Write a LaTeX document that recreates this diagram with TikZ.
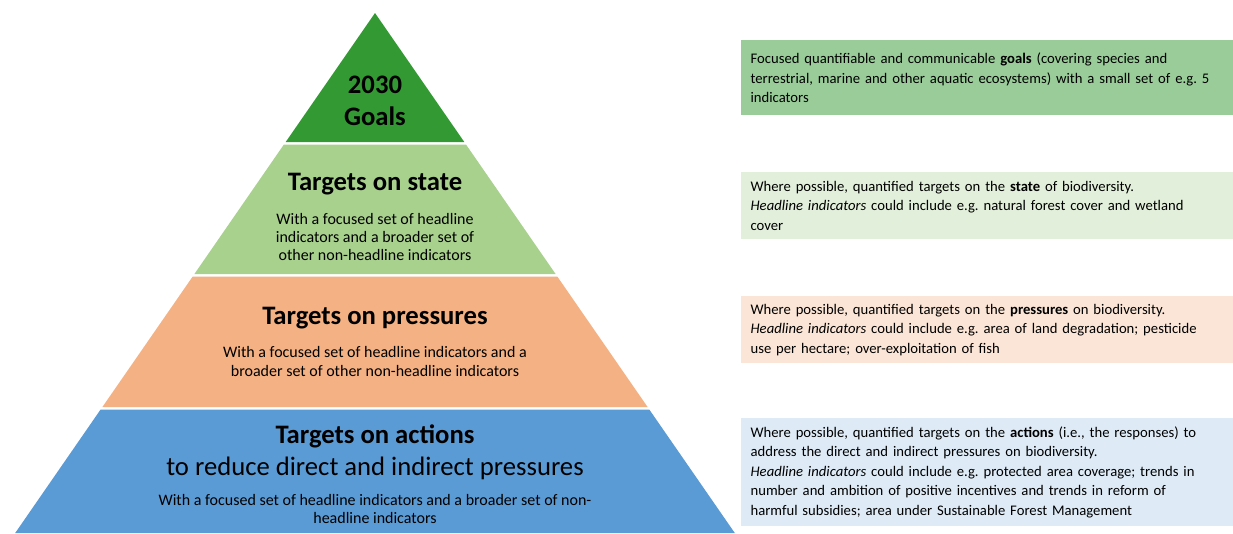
\documentclass[tikz,border=0pt]{standalone}
\usepackage{fontspec}
\setmainfont{Carlito}
\frenchspacing
\definecolor{gdark}{HTML}{339933}
\definecolor{glight}{HTML}{A9D18E}
\definecolor{orng}{HTML}{F4B183}
\definecolor{blu}{HTML}{5B9BD5}
\definecolor{bgoal}{HTML}{99CC99}
\definecolor{bstate}{HTML}{E2EFDA}
\definecolor{bpress}{HTML}{FBE5D6}
\definecolor{bact}{HTML}{DEEBF7}
\tikzset{
  ttl/.style={font=\fontsize{20}{24}\selectfont\bfseries, align=center, inner sep=0pt},
  sub/.style={font=\fontsize{12}{13.7}\selectfont, align=center, inner sep=0pt},
  rbox/.style={anchor=north west, minimum width=369pt, text width=355pt, inner xsep=6.75pt, inner ysep=0pt, align=left, font=\fontsize{11}{14.6}\selectfont}
}
\begin{document}
\begin{tikzpicture}[x=0.75pt,y=-0.75pt]
\useasboundingbox (0,0) rectangle (1233,533);
% pyramid bands
\fill[gdark] (375,13) -- (464.3,142) -- (285.7,142) -- cycle;
\fill[glight] (283.9,144.5) -- (466.0,144.5) -- (555.6,274) -- (194.4,274) -- cycle;
\fill[orng] (192.7,276.5) -- (557.3,276.5) -- (647.6,407) -- (102.4,407) -- cycle;
\fill[blu] (100.6,409.5) -- (649.3,409.5) -- (734.8,533) -- (15.2,533) -- cycle;
% pyramid texts
\node[ttl] (goals) at (375,101) {2030\\Goals};
\node[ttl] (state) at (375,184) {Targets on state};
\node[sub] (statesub) at (375,237) {With a focused set of headline\\indicators and a broader set of\\other non-headline indicators};
\node[ttl] (press) at (375,318) {Targets on pressures};
\node[sub] (presssub) at (375,361.5) {With a focused set of headline indicators and a\\broader set of other non-headline indicators};
\node[ttl] (act) at (375,436) {Targets on actions};
\node[ttl, font=\fontsize{20}{24}\selectfont] (actred) at (375,468) {to reduce direct and indirect pressures};
\node[sub] (actsub) at (375,509) {With a focused set of headline indicators and a broader set of non-\\headline indicators};
% right boxes
\node[rbox, fill=bgoal, minimum height=56.25pt] (bgoal) at (741,40) {Focused quantifiable and communicable \textbf{goals} (covering species and\\terrestrial, marine and other aquatic ecosystems) with a small set of e.g. 5\\indicators};
\node[rbox, fill=bstate, minimum height=50.25pt] (bstate) at (741,172) {Where possible, quantified targets on the \textbf{state} of biodiversity.\\\textit{Headline indicators} could include e.g. natural forest cover and wetland\\cover};
\node[rbox, fill=bpress, minimum height=50.25pt] (bpress) at (741,296) {Where possible, quantified targets on the \textbf{pressures} on biodiversity.\\\textit{Headline indicators} could include e.g. area of land degradation; pesticide\\use per hectare; over-exploitation of fish};
\node[rbox, fill=bact, minimum height=81pt] (bact) at (741,418) {Where possible, quantified targets on the \textbf{actions} (i.e., the responses) to\\address the direct and indirect pressures on biodiversity.\\\textit{Headline indicators} could include e.g. protected area coverage; trends in\\number and ambition of positive incentives and trends in reform of\\harmful subsidies; area under Sustainable Forest Management};
\end{tikzpicture}
\end{document}
